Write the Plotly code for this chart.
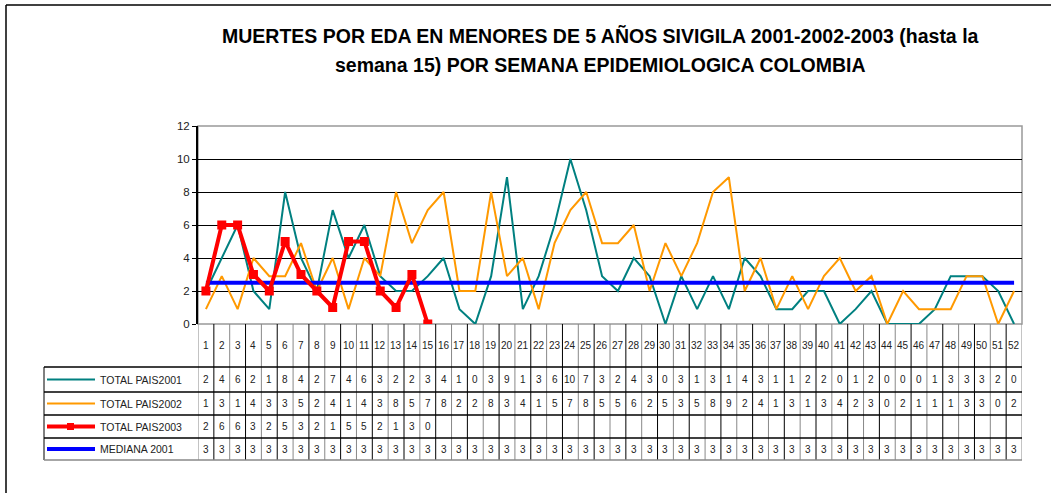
import plotly.graph_objects as go

weeks = list(range(1, 53))
total_2001 = [2, 4, 6, 2, 0.9, 8, 4, 2, 6.9, 4, 6, 2.9, 2, 2, 2.9, 4, 0.9, 0, 2.9, 8.9,
              0.9, 2.9, 6, 10, 6.9, 2.9, 2, 4, 2.9, 0, 2.9, 0.9, 2.9, 0.9, 4, 2.9, 0.9, 0.9,
              2, 2, 0, 0.9, 2, 0, 0, 0, 0.9, 2.9, 2.9, 2.9, 2, 0]
total_2002 = [0.9, 2.9, 0.9, 4, 2.9, 2.9, 4.9, 2, 4, 0.9, 4, 2.9, 8, 4.9, 6.9, 8, 2, 2, 8, 2.9,
              4, 0.9, 4.9, 6.9, 8, 4.9, 4.9, 6, 2, 4.9, 2.9, 4.9, 8, 8.9, 2, 4, 0.9, 2.9, 0.9,
              2.9, 4, 2, 2.9, 0, 2, 0.9, 0.9, 0.9, 2.9, 2.9, 0, 2]
total_2003 = [2, 6, 6, 3, 2, 5, 3, 2, 1, 5, 5, 2, 1, 3, 0]
mediana_2001 = [2.5] * 52

series_names = ["TOTAL PAIS2001", "TOTAL PAIS2002", "TOTAL PAIS2003", "MEDIANA 2001"]
series_values = [total_2001, total_2002, total_2003, mediana_2001]
series_colors = ["#008080", "#FF9900", "#FF0000", "#0000FF"]

W, H = 1051, 493
L, R, T, B = 198, 1022, 126, 324
PH = B - T
PW = R - L


def py(p):
    return (B - p) / PH


def px(p):
    return (p - L) / PW


fig = go.Figure()
fig.add_trace(go.Scatter(x=weeks, y=total_2001, mode="lines", name=series_names[0],
                         line=dict(color=series_colors[0], width=2)))
fig.add_trace(go.Scatter(x=weeks, y=total_2002, mode="lines", name=series_names[1],
                         line=dict(color=series_colors[1], width=2)))
fig.add_trace(go.Scatter(x=weeks, y=mediana_2001, mode="lines", name=series_names[3],
                         line=dict(color=series_colors[3], width=4)))
fig.add_trace(go.Scatter(x=weeks[:len(total_2003)], y=total_2003, mode="lines+markers",
                         name=series_names[2],
                         line=dict(color=series_colors[2], width=4),
                         marker=dict(symbol="square", size=9, color=series_colors[2])))

shapes = []
annotations = []
FONT = "Liberation Sans, Arial"

# outer frame (top & left)
shapes.append(dict(type="line", xref="paper", yref="paper", x0=px(6), x1=px(1051), y0=py(5), y1=py(5),
                   line=dict(color="black", width=1.5)))
shapes.append(dict(type="line", xref="paper", yref="paper", x0=px(6), x1=px(6), y0=py(5), y1=py(493),
                   line=dict(color="black", width=1.5)))
# plot area border (gray)
shapes.append(dict(type="rect", xref="paper", yref="paper", x0=0, x1=1, y0=0, y1=1,
                   line=dict(color="#999999", width=1.5), layer="below"))

week_row_top = 324
row_edges = [367, 392, 415, 438, 460]

# vertical lines for week columns
for k in range(0, 53):
    xv = k + 0.5
    col = "#888888" if k % 2 == 0 else "black"
    shapes.append(dict(type="line", xref="x", yref="paper", x0=xv, x1=xv,
                       y0=py(week_row_top), y1=py(460), line=dict(color=col, width=1)))
# legend column vertical line
shapes.append(dict(type="line", xref="paper", yref="paper", x0=px(44), x1=px(44),
                   y0=py(367), y1=py(460), line=dict(color="black", width=1)))
# horizontal lines
for i, yv in enumerate(row_edges):
    col = "#888888" if i == len(row_edges) - 1 else "black"
    shapes.append(dict(type="line", xref="paper", yref="paper", x0=px(44), x1=1,
                       y0=py(yv), y1=py(yv), line=dict(color=col, width=1.3)))

# week number labels
for w in weeks:
    annotations.append(dict(x=w, y=py(345.5), xref="x", yref="paper", text=str(w),
                            showarrow=False, xanchor="center", yanchor="middle",
                            font=dict(size=10, color="#222222", family=FONT)))

# table rows
for r, (name, vals, col) in enumerate(zip(series_names, series_values, series_colors)):
    yc = (row_edges[r] + row_edges[r + 1]) / 2
    for i, v in enumerate(vals):
        annotations.append(dict(x=weeks[i], y=py(yc), xref="x", yref="paper",
                                text=str(int(v + 0.5)), showarrow=False,
                                xanchor="center", yanchor="middle",
                                font=dict(size=10, color="#222222", family=FONT)))
    # legend key
    lw = 2 if r < 2 else 4
    shapes.append(dict(type="line", xref="paper", yref="paper", x0=px(47), x1=px(95),
                       y0=py(yc), y1=py(yc), line=dict(color=col, width=lw)))
    if r == 2:
        shapes.append(dict(type="rect", xref="paper", yref="paper", x0=px(67), x1=px(74),
                           y0=py(yc - 3.5), y1=py(yc + 3.5), fillcolor=col,
                           line=dict(color=col, width=0)))
    annotations.append(dict(x=px(98), y=py(yc), xref="paper", yref="paper", text=name,
                            showarrow=False, xanchor="left", yanchor="middle",
                            font=dict(size=10.5, color="#222222", family=FONT)))

# title
TFONT = dict(size=19.5, color="black", family=FONT)
annotations.append(dict(x=px(600), y=py(36), xref="paper", yref="paper",
                        text="<b>MUERTES POR EDA EN MENORES DE 5 AÑOS SIVIGILA 2001-2002-2003 (hasta la</b>",
                        showarrow=False, xanchor="center", yanchor="middle", font=TFONT))
annotations.append(dict(x=px(600), y=py(65), xref="paper", yref="paper",
                        text="<b>semana 15) POR SEMANA EPIDEMIOLOGICA COLOMBIA</b>",
                        showarrow=False, xanchor="center", yanchor="middle", font=TFONT))

fig.update_layout(
    width=W, height=H, autosize=False,
    margin=dict(l=L, r=W - R, t=T, b=H - B, pad=0),
    paper_bgcolor="white", plot_bgcolor="white",
    showlegend=False,
    shapes=shapes, annotations=annotations,
    xaxis=dict(range=[0.5, 52.5], showgrid=False, zeroline=False, showticklabels=False,
               ticks="", showline=False),
    yaxis=dict(range=[0, 12], dtick=2, showgrid=True, gridcolor="black", gridwidth=1,
               zeroline=False, showline=True, linecolor="black", linewidth=2,
               ticks="outside", ticklen=4, tickcolor="black",
               tickfont=dict(size=11.5, color="#222222", family=FONT)),
)

fig.write_html("out.html", config={"displayModeBar": False},
               post_script="document.body.style.margin='0';document.body.style.overflow='hidden';")
